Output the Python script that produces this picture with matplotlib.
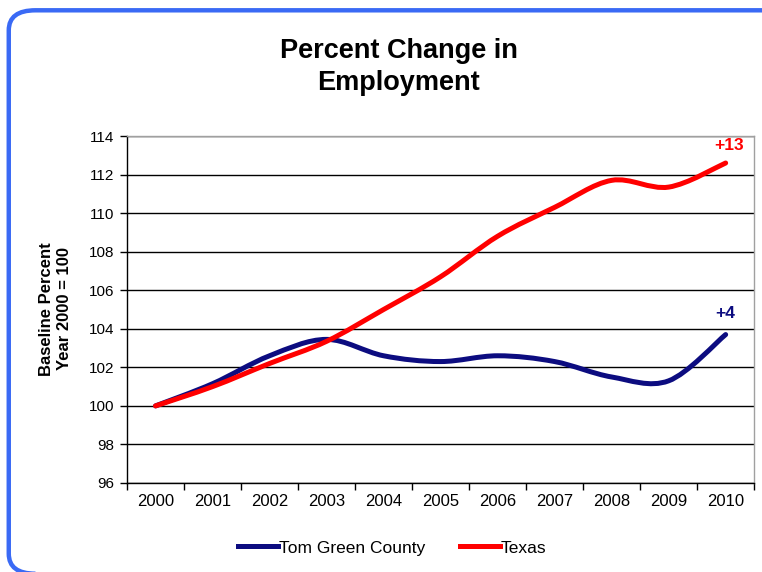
import numpy as np
import matplotlib.pyplot as plt
from matplotlib.path import Path
from matplotlib.patches import PathPatch, FancyBboxPatch
from matplotlib.lines import Line2D

plt.rcParams['font.family'] = ['Liberation Sans', 'DejaVu Sans']

years = ['2000', '2001', '2002', '2003', '2004', '2005', '2006', '2007', '2008', '2009', '2010']
tom_green = [100.0, 101.15, 102.6, 103.45, 102.6, 102.3, 102.6, 102.3, 101.5, 101.3, 103.7]
texas = [100.0, 101.0, 102.2, 103.35, 105.0, 106.7, 108.8, 110.3, 111.7, 111.35, 112.6]
yticks = [96, 98, 100, 102, 104, 106, 108, 110, 112, 114]

NAVY = '#0c0c80'
RED = '#ff0000'


def smooth_path(xs, ys):
    # Excel-style smoothed line: cubic Bezier through each data point
    p = np.column_stack([xs, ys]).astype(float)
    q = np.vstack([p[0], p, p[-1]])
    verts = [p[0]]
    codes = [Path.MOVETO]
    for i in range(len(p) - 1):
        c1 = q[i + 1] + (q[i + 2] - q[i]) / 6
        c2 = q[i + 2] - (q[i + 3] - q[i + 1]) / 6
        verts += [c1, c2, p[i + 1]]
        codes += [Path.CURVE4] * 3
    return Path(verts, codes)


fig = plt.figure(figsize=(7.62, 5.72), dpi=100)
# rounded frame, cut off on the right and bottom like the screenshot
fig.patches.append(FancyBboxPatch((0.0115, -0.003), 1.05, 0.985,
                                  boxstyle='round,pad=0,rounding_size=0.035',
                                  transform=fig.transFigure, fill=False,
                                  edgecolor='#3a6af5', linewidth=3.2, zorder=0))

ax = fig.add_axes([0.1667, 0.1556, 0.823, 0.6066])
x = np.arange(len(years))
for vals, col in [(tom_green, NAVY), (texas, RED)]:
    ax.add_patch(PathPatch(smooth_path(x, vals), fill=False, edgecolor=col,
                           linewidth=3.6, capstyle='round', joinstyle='round', zorder=3))

ax.set_xlim(-0.5, len(years) - 0.5)
ax.set_ylim(96, 114)
ax.set_yticks(yticks)
ax.set_xticks(x)
ax.set_xticklabels(years)
ax.set_xticks(np.arange(-0.5, len(years)), minor=True)
ax.tick_params(axis='x', which='major', length=0, pad=8, labelsize=12)
ax.tick_params(axis='x', which='minor', length=5, width=1)
ax.tick_params(axis='y', length=5, width=1, labelsize=11, pad=4)
ax.yaxis.grid(True, color='black', linewidth=1)
ax.set_axisbelow(True)
for s in ['top', 'right']:
    ax.spines[s].set_color('#a0a0a0')
    ax.spines[s].set_linewidth(1)
for s in ['left', 'bottom']:
    ax.spines[s].set_linewidth(1)

ax.text(10.06, 113.5, '+13', color=RED, fontsize=12.5, fontweight='bold', ha='center', va='center')
ax.text(9.99, 104.77, '+4', color=NAVY, fontsize=12.5, fontweight='bold', ha='center', va='center')

fig.text(0.523, 0.882, 'Percent Change in\nEmployment', ha='center', va='center',
         fontsize=19.5, fontweight='bold', linespacing=1.3)
fig.text(0.073, 0.46, 'Baseline Percent\nYear 2000 = 100', ha='center', va='center',
         rotation=90, fontsize=12, fontweight='bold', linespacing=1.3)

handles = [Line2D([], [], color=NAVY, linewidth=3.6), Line2D([], [], color=RED, linewidth=3.6)]
fig.legend(handles, ['Tom Green County', 'Texas'], loc='center', bbox_to_anchor=(0.515, 0.042),
           ncol=2, frameon=False, fontsize=12.5, handlelength=2.3, handletextpad=0.05,
           columnspacing=2.0)

fig.savefig('out.png', dpi=100)
